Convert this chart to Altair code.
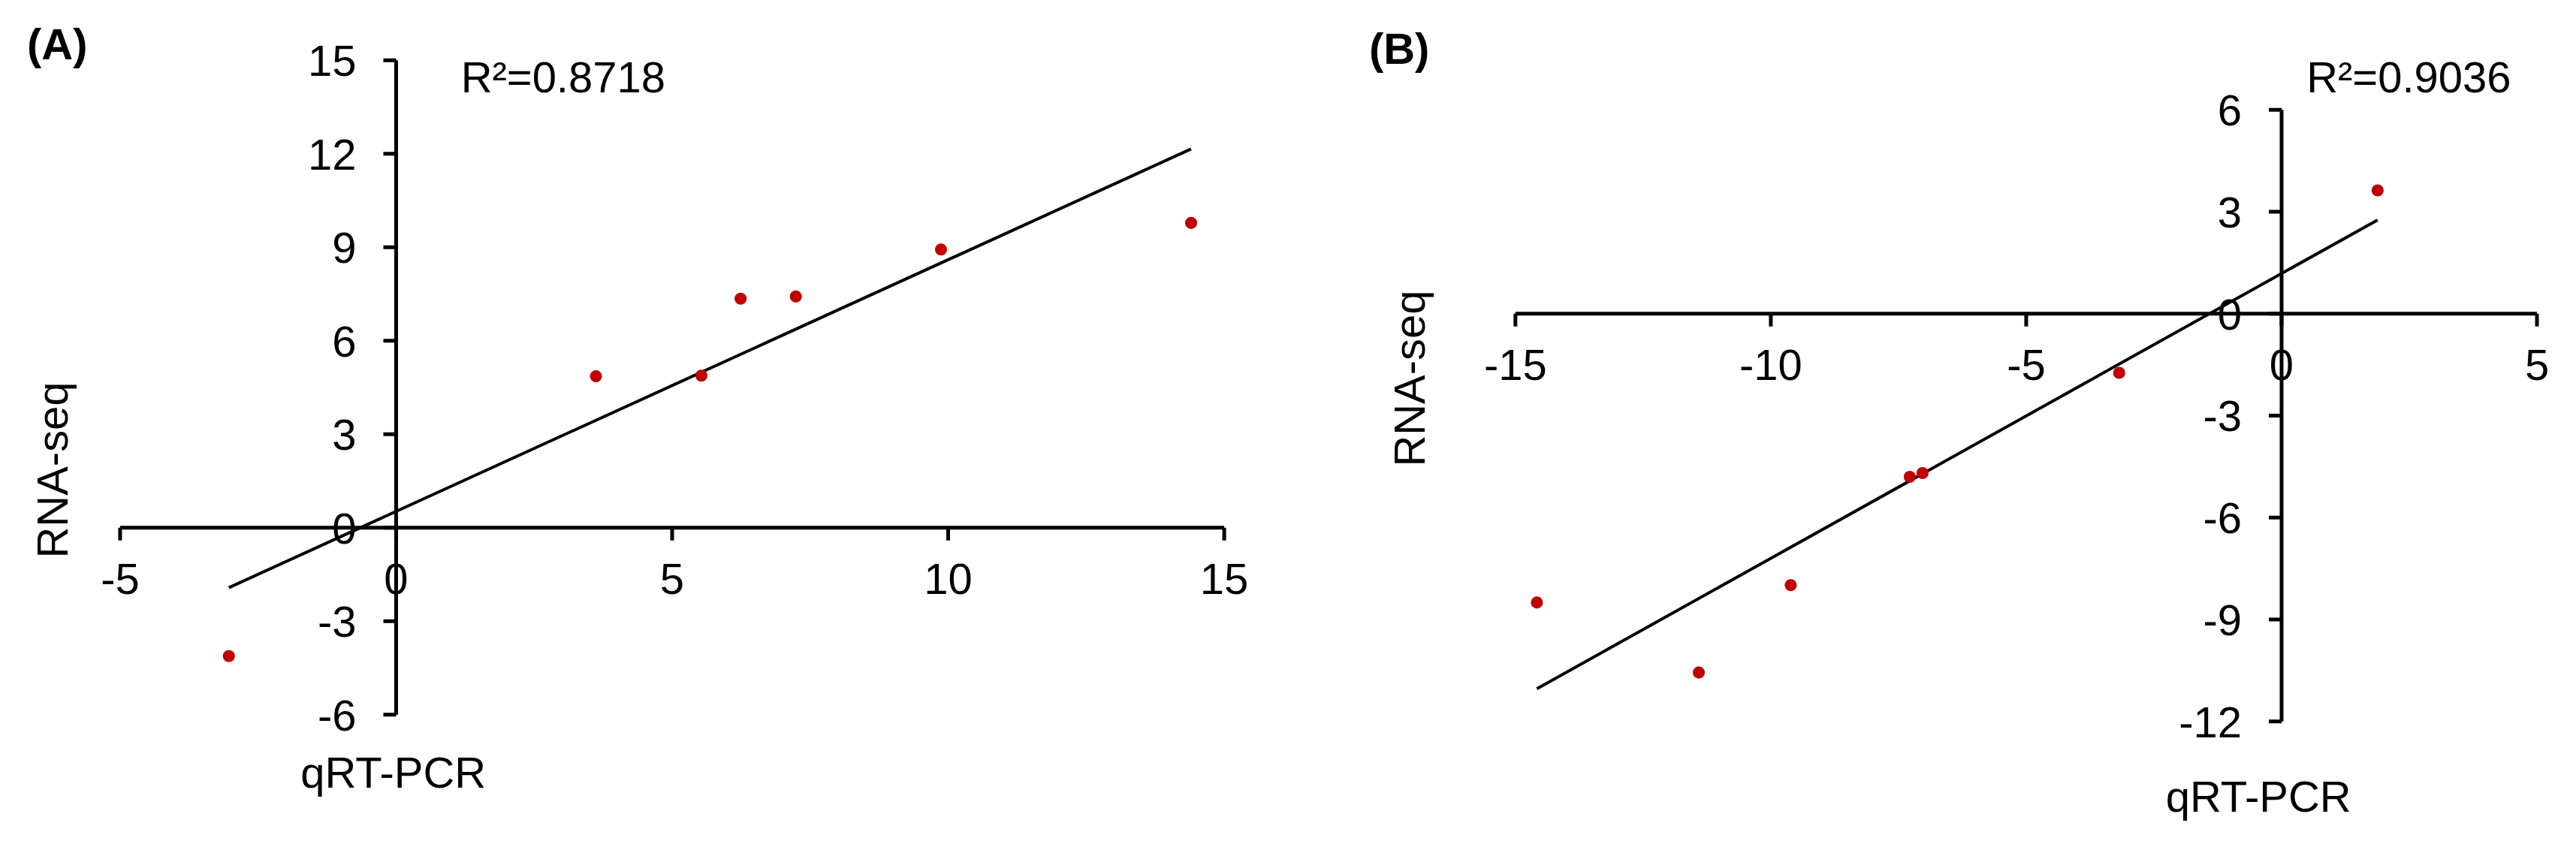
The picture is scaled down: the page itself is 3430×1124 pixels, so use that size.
import altair as alt
import pandas as pd

# ---------------- data ----------------
A_qpcr = [-3.03, 3.62, 5.53, 6.24, 7.24, 9.87, 14.40]
A_rnaseq = [-4.12, 4.86, 4.88, 7.35, 7.42, 8.93, 9.78]
A_xticks = [-5, 0, 5, 10, 15]
A_yticks = [-6, -3, 0, 3, 6, 9, 12, 15]
A_r2 = "R²=0.8718"

B_qpcr = [-14.58, -11.41, -9.61, -7.28, -7.03, -3.18, 1.88]
B_rnaseq = [-8.50, -10.56, -7.99, -4.80, -4.69, -1.74, 3.63]
B_xticks = [-15, -10, -5, 0, 5]
B_yticks = [-12, -9, -6, -3, 0, 3, 6]
B_r2 = "R²=0.9036"

X_TITLE = "qRT-PCR"
Y_TITLE = "RNA-seq"

# ---------------- layout (pixels) ----------------
PANEL_W = 1707
PANEL_H = 1108
FONT = "Liberation Sans, Arial, sans-serif"
FS = 58
LINE_W = 5
TREND_W = 4
TICK_LEN = 17
DOT_COLOR = "#C00000"
DOT_SIZE = 260


def x_domain(v1, p1, v2, p2):
    unit = (p2 - p1) / (v2 - v1)
    dmin = v1 - p1 / unit
    return [dmin, dmin + PANEL_W / unit]


def y_domain(v_top, p_top, v_bot, p_bot):
    unit = (p_bot - p_top) / (v_top - v_bot)
    dmax = v_top + p_top / unit
    return [dmax - PANEL_H / unit, dmax]


def text_layer(s, x, y, **kw):
    return alt.Chart(pd.DataFrame({"t": [s]})).mark_text(
        font=FONT, fontSize=FS, color="black", **kw
    ).encode(x=alt.value(x), y=alt.value(y), text="t:N")


def panel(xs, ys, xt, yt, xdom, ydom, letter, r2, pos):
    xs_ = alt.Scale(domain=xdom, nice=False, zero=False)
    ys_ = alt.Scale(domain=ydom, nice=False, zero=False)

    def X(f):
        return alt.X(f, type="quantitative", scale=xs_, axis=None)

    def Y(f):
        return alt.Y(f, type="quantitative", scale=ys_, axis=None)

    pts = alt.Chart(pd.DataFrame({"x": xs, "y": ys}))

    xdomain_rule = alt.Chart(
        pd.DataFrame({"x": [min(xt)], "x2": [max(xt)], "y": [0]})
    ).mark_rule(color="black", strokeWidth=LINE_W).encode(x=X("x"), x2="x2", y=Y("y"))

    ydomain_rule = alt.Chart(
        pd.DataFrame({"x": [0], "y": [min(yt)], "y2": [max(yt)]})
    ).mark_rule(color="black", strokeWidth=LINE_W).encode(x=X("x"), y=Y("y"), y2="y2")

    xdf = pd.DataFrame({"v": xt, "z": [0] * len(xt), "lab": [str(v) for v in xt]})
    ydf = pd.DataFrame({"v": yt, "z": [0] * len(yt), "lab": [str(v) for v in yt]})

    xtick_rules = alt.Chart(xdf).mark_rule(
        color="black", strokeWidth=LINE_W, y2Offset=TICK_LEN
    ).encode(x=X("v"), y=Y("z"), y2="z")
    ytick_rules = alt.Chart(ydf).mark_rule(
        color="black", strokeWidth=LINE_W, x2Offset=-TICK_LEN
    ).encode(x=X("z"), x2="z", y=Y("v"))

    xtick_labels = alt.Chart(xdf).mark_text(
        font=FONT, fontSize=FS, color="black", align="center",
        baseline="alphabetic", dy=88
    ).encode(x=X("v"), y=Y("z"), text="lab:N")
    ytick_labels = alt.Chart(ydf).mark_text(
        font=FONT, fontSize=FS, color="black", align="right",
        baseline="alphabetic", dx=-53, dy=21
    ).encode(x=X("z"), y=Y("v"), text="lab:N")

    trend = pts.transform_regression("x", "y").mark_line(
        color="black", strokeWidth=TREND_W
    ).encode(x=X("x"), y=Y("y"))

    dots = pts.mark_circle(size=DOT_SIZE, color=DOT_COLOR, opacity=1).encode(
        x=X("x"), y=Y("y")
    )

    annotations = [
        text_layer(letter, pos["letter"][0], pos["letter"][1], align="left",
                   baseline="alphabetic", fontWeight="bold"),
        text_layer(r2, pos["r2"][0], pos["r2"][1], align="left", baseline="alphabetic"),
        text_layer(Y_TITLE, pos["ytitle"][0], pos["ytitle"][1], align="center",
                   baseline="alphabetic", angle=270),
        text_layer(X_TITLE, pos["xtitle"][0], pos["xtitle"][1], align="center",
                   baseline="alphabetic"),
    ]

    return alt.layer(
        xdomain_rule, ydomain_rule, xtick_rules, ytick_rules,
        xtick_labels, ytick_labels, *annotations, trend, dots
    ).properties(width=PANEL_W, height=PANEL_H)


# panel A: -5 at px 151, 15 at px 1622; 15 at py 71, -6 at py 943
chart_a = panel(
    A_qpcr, A_rnaseq, A_xticks, A_yticks,
    x_domain(-5, 151, 15, 1622), y_domain(15, 71, -6, 943),
    "(A)", A_r2,
    {"letter": (27, 70), "r2": (605, 114), "ytitle": (81, 617), "xtitle": (515, 1040)},
)

# panel B: -15 at px 303, 5 at px 1664; 6 at py 137, -12 at py 952
chart_b = panel(
    B_qpcr, B_rnaseq, B_xticks, B_yticks,
    x_domain(-15, 303, 5, 1664), y_domain(6, 137, -12, 952),
    "(B)", B_r2,
    {"letter": (108, 76), "r2": (1357, 114), "ytitle": (182, 495), "xtitle": (1293, 1072)},
)

chart = alt.hconcat(chart_a, chart_b, spacing=0, bounds="flush").properties(
    padding=0, background="white"
).configure_view(stroke="transparent")

chart.save("out.html", embed_options={"renderer": "svg", "actions": False})
